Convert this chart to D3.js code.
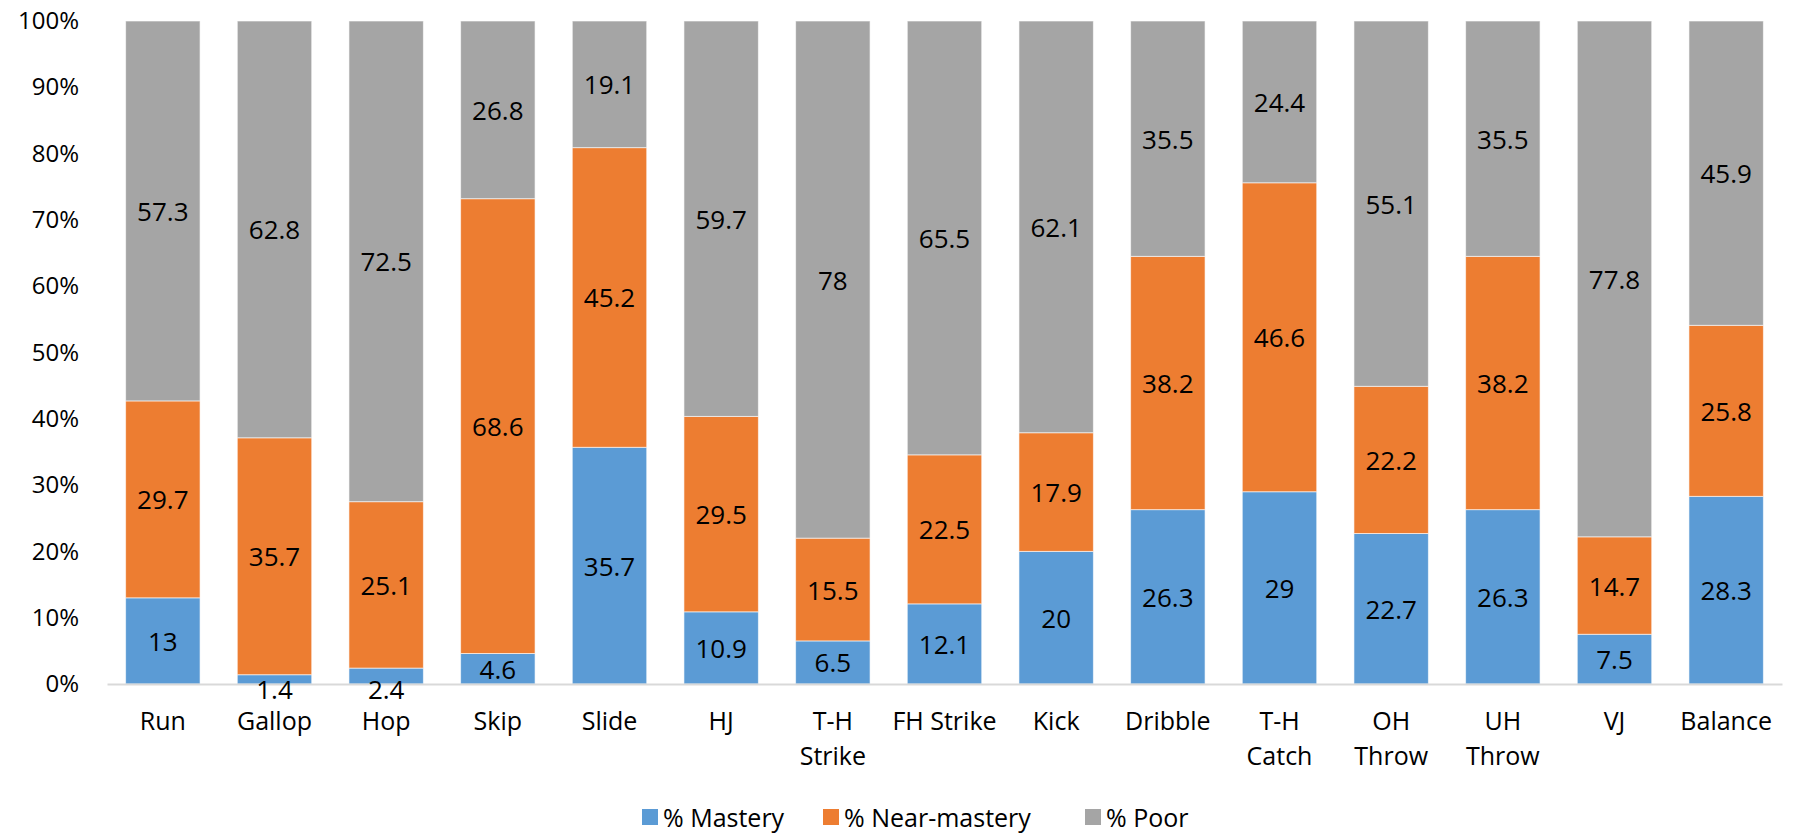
<!DOCTYPE html>
<html>
<head>
<meta charset="utf-8">
<script src="https://cdn.jsdelivr.net/npm/d3@7"></script>
<style>
  html, body { margin: 0; padding: 0; background: #fff; }
  svg { display: block; font-family: "Open Sans", "Noto Sans", sans-serif; }
</style>
</head>
<body>
<svg id="chart" width="1798" height="833"></svg>
<script>
// Fundamental motor skills: share of children at each proficiency level
const categories = ["Run", "Gallop", "Hop", "Skip", "Slide", "HJ", "T-H\nStrike", "FH Strike", "Kick", "Dribble", "T-H\nCatch", "OH\nThrow", "UH\nThrow", "VJ", "Balance"];
const mastery     = [13, 1.4, 2.4, 4.6, 35.7, 10.9, 6.5, 12.1, 20, 26.3, 29, 22.7, 26.3, 7.5, 28.3];
const nearMastery = [29.7, 35.7, 25.1, 68.6, 45.2, 29.5, 15.5, 22.5, 17.9, 38.2, 46.6, 22.2, 38.2, 14.7, 25.8];
const poor        = [57.3, 62.8, 72.5, 26.8, 19.1, 59.7, 78, 65.5, 62.1, 35.5, 24.4, 55.1, 35.5, 77.8, 45.9];
const seriesNames = ["% Mastery", "% Near-mastery", "% Poor"];
const seriesColors = ["#5B9BD5", "#ED7D31", "#A5A5A5"];
const yTicks = [0, 0.1, 0.2, 0.3, 0.4, 0.5, 0.6, 0.7, 0.8, 0.9, 1.0];

const svg = d3.select("#chart");
const margin = { left: 107, right: 16, top: 21, bottom: 149 };
const W = 1798, H = 833;

const rows = categories.map((c, i) => ({ cat: c, s0: mastery[i], s1: nearMastery[i], s2: poor[i] }));
const keys = ["s0", "s1", "s2"];
const stacked = d3.stack().keys(keys).offset(d3.stackOffsetExpand)(rows);

const x = d3.scaleBand()
  .domain(categories)
  .range([margin.left, W - margin.right])
  .paddingInner(1 / 3)
  .paddingOuter(1 / 6);

const y = d3.scaleLinear()
  .domain([0, 1])
  .range([H - margin.bottom, margin.top]);

// Stacked bar segments
const layers = svg.append("g")
  .selectAll("g")
  .data(stacked)
  .join("g")
  .attr("fill", (d, i) => seriesColors[i]);

layers.selectAll("rect")
  .data(d => d)
  .join("rect")
  .attr("x", d => x(d.data.cat))
  .attr("width", x.bandwidth())
  .attr("y", d => y(d[1]))
  .attr("height", d => y(d[0]) - y(d[1]))
  .attr("stroke", "#ffffff")
  .attr("stroke-opacity", 0.6)
  .attr("stroke-width", 1);

// Y axis (labels only)
const yAxis = d3.axisLeft(y)
  .tickValues(yTicks)
  .tickFormat(d3.format(".0%"))
  .tickSize(0)
  .tickPadding(28);

svg.append("g")
  .attr("transform", `translate(${margin.left},0)`)
  .call(yAxis)
  .call(g => g.select(".domain").remove())
  .call(g => g.selectAll("text").attr("font-size", 24).attr("fill", "#000").attr("font-family", "Open Sans"));

// X axis baseline and category labels
const xAxis = d3.axisBottom(x).tickSize(0).tickFormat("");
const xg = svg.append("g")
  .attr("transform", `translate(0,${y(0)})`)
  .call(xAxis);
xg.select(".domain").attr("stroke", "#D9D9D9").attr("stroke-width", 2);

xg.selectAll(".tick").each(function (d) {
  const t = d3.select(this).append("text")
    .attr("text-anchor", "middle")
    .attr("fill", "#000")
    .attr("font-size", 25)
    .attr("font-family", "Open Sans");
  d.split("\n").forEach((line, i) => {
    t.append("tspan").attr("x", 0).attr("y", 46 + i * 35).text(line);
  });
});

// Value labels centred in each segment, drawn above bars and axis;
// labels of very thin bottom segments sit just under the baseline
const labelData = [];
stacked.forEach((layer, i) => {
  layer.forEach(v => labelData.push({ v, key: keys[i] }));
});
svg.append("g")
  .selectAll("text")
  .data(labelData)
  .join("text")
  .attr("x", d => x(d.v.data.cat) + x.bandwidth() / 2)
  .attr("y", d => Math.min(y((d.v[0] + d.v[1]) / 2), y(0) - 0) < y(0) - 12
      ? y((d.v[0] + d.v[1]) / 2)
      : y(0) + 5)
  .attr("text-anchor", "middle")
  .attr("dominant-baseline", "central")
  .attr("fill", "#000")
  .attr("font-size", 26)
  .text(d => d.v.data[d.key]);

// Legend
const legendX = [642, 823, 1085];
const legend = svg.append("g");
seriesNames.forEach((name, i) => {
  legend.append("rect")
    .attr("x", legendX[i]).attr("y", 809)
    .attr("width", 16).attr("height", 16)
    .attr("fill", seriesColors[i]);
  legend.append("text")
    .attr("x", legendX[i] + 21).attr("y", 817)
    .attr("dominant-baseline", "central")
    .attr("font-size", 25)
    .attr("fill", "#000")
    .text(name);
});
</script>
</body>
</html>
